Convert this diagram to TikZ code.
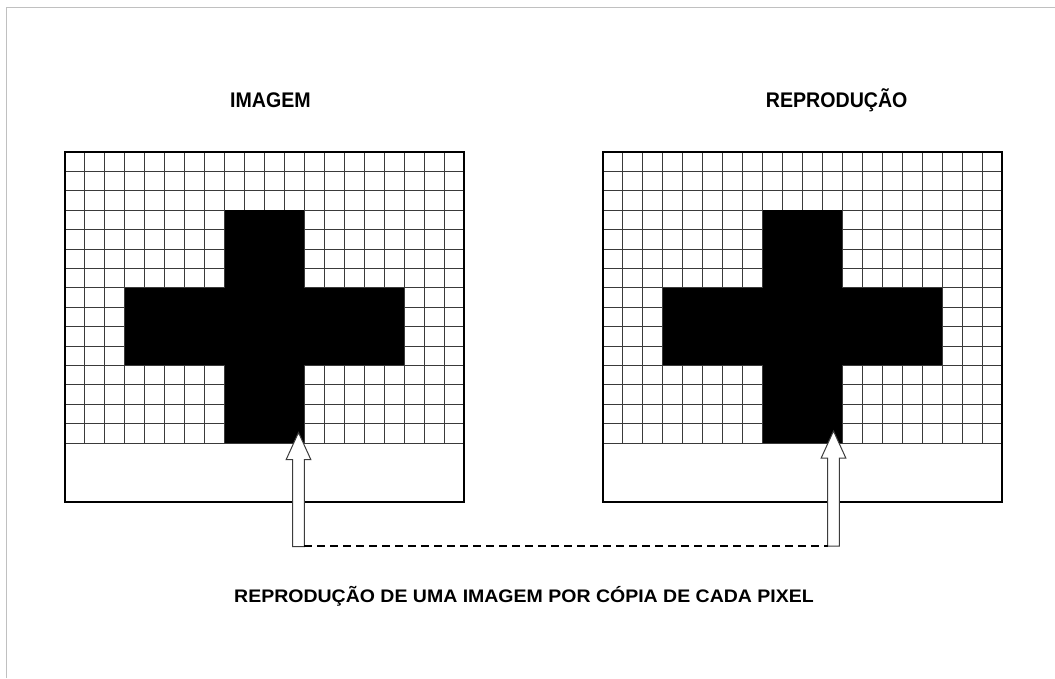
\documentclass[tikz,border=0pt]{standalone}
\usepackage{fontspec}
\usetikzlibrary{calc}
\setmainfont{Liberation Sans}
\definecolor{framegray}{HTML}{C0C0C0}
\definecolor{gridgray}{HTML}{3A3A3A}
\definecolor{arrowgray}{HTML}{3C3C3C}
\tikzset{
  gridline/.style={draw=gridgray, line width=1pt},
  panel/.style={draw=black, line width=2pt, rectangle, minimum width=399pt, minimum height=349.5pt, inner sep=0pt},
  crossfill/.style={fill=black, draw=none},
  hollowarrow/.style={draw=arrowgray, fill=white, line width=1pt, line join=miter},
  link/.style={draw=black, line width=1.6pt, dash pattern=on 8pt off 5pt},
  titletext/.style={font=\bfseries\fontsize{19.6}{22}\selectfont, inner sep=0pt},
  captiontext/.style={font=\bfseries\fontsize{19.5}{22}\selectfont, inner sep=0pt},
  outerframe/.style={draw=framegray, line width=1.5pt}
}
\begin{document}
\begin{tikzpicture}[x=1pt,y=-1pt]
\useasboundingbox (0,0) rectangle (1055,678);
\draw[outerframe] (6.5,678) -- (6.5,7.5) -- (1055,7.5);

% panels
\foreach \ox/\nm in {0/left,538/right}{
  \begin{scope}[shift={(\ox,0)}]
    \foreach \i in {0,...,20}
      \draw[gridline] ({65+\i*19.95},152) -- ({65+\i*19.95},443);
    \foreach \j in {0,...,15}
      \draw[gridline] (65,{152+\j*19.4}) -- (464,{152+\j*19.4});
    % cross
    \fill[crossfill] (224.6,210.2) rectangle (304.4,443);
    \fill[crossfill] (124.85,287.8) rectangle (404.2,365.4);
  \end{scope}
}
\node[panel] (imgL) at (264.5,326.75) {};
\node[panel] (imgR) at (802.5,326.75) {};

% titles
\node[titletext] (tL) at (270.5,100) {\scalebox{1}[1.08]{IMAGEM}};
\node[titletext] (tR) at (836.7,100) {\scalebox{1}[1.08]{REPRODUÇÃO}};

% hollow arrows
\coordinate (aL) at (298.5,546.5);
\coordinate (aR) at (833.5,546);
\foreach \c/\tip in {aL/114,aR/115}{
  \draw[hollowarrow, shift={(\c)}]
    (-5.8,0) -- (-5.8,{-\tip+27}) -- (-12.3,{-\tip+27}) -- (0,-\tip)
    -- (12.3,{-\tip+27}) -- (5.8,{-\tip+27}) -- (5.8,0) -- cycle;
}
\coordinate (dL) at ($(aL)+(5.8,-0.5)$);
\coordinate (dR) at ($(aR)+(-5.8,0)$);
\draw[link] (dL) -- (dR);

% caption
\node[captiontext] (cap) at (524,596) {\scalebox{1}[0.93]{REPRODUÇÃO DE UMA IMAGEM POR CÓPIA DE CADA PIXEL}};
\end{tikzpicture}
\end{document}
